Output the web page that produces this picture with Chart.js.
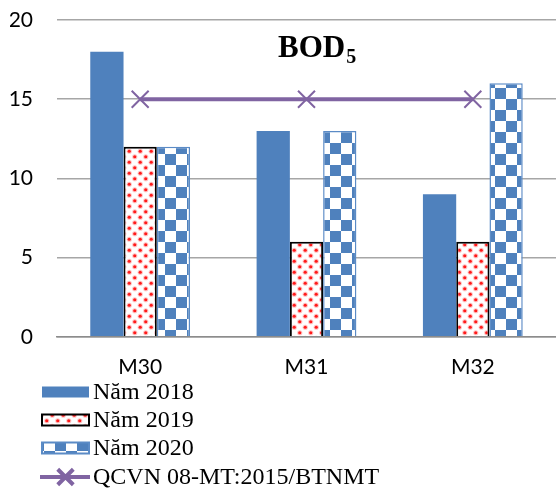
<!DOCTYPE html>
<html>
<head>
<meta charset="utf-8">
<script src="https://cdn.jsdelivr.net/npm/chart.js@4.4.0/dist/chart.umd.min.js"></script>
<style>
  html, body { margin: 0; padding: 0; background: #fff; }
  #wrap { width: 556px; height: 488px; }
</style>
</head>
<body>
<div id="wrap"><canvas id="c" width="556" height="488"></canvas></div>
<script>
// Sampling stations and BOD5 results per year (mg/l)
const categories = ['M30', 'M31', 'M32'];
const seriesNames = ['Năm 2018', 'Năm 2019', 'Năm 2020'];
const values2018 = [18, 13, 9];
const values2019 = [12, 6, 6];
const values2020 = [12, 13, 16];
// Regulatory limit
const limitName = 'QCVN 08-MT:2015/BTNMT';
const limitValues = [15, 15, 15];
const yTicks = [0, 5, 10, 15, 20];

const BLUE = '#4f81bd';
const PURPLE = '#8064a2';

// Dotted fill: red dots on white, staggered rows
function makeDots() {
  const s = 11;
  const cv = document.createElement('canvas');
  cv.width = s; cv.height = s;
  const g = cv.getContext('2d');
  g.fillStyle = '#fff';
  g.fillRect(0, 0, s, s);
  [[2.75, 2.75], [8.25, 8.25]].forEach(([x, y]) => {
    g.fillStyle = 'rgba(255,120,120,0.45)';
    g.beginPath(); g.arc(x, y, 2.6, 0, Math.PI * 2); g.fill();
    g.fillStyle = '#ff1a1a';
    g.beginPath(); g.arc(x, y, 1.6, 0, Math.PI * 2); g.fill();
  });
  return g.createPattern(cv, 'repeat');
}

// Checkerboard fill: blue and white squares
function makeChecker() {
  const s = 11;
  const cv = document.createElement('canvas');
  cv.width = s * 2; cv.height = s * 2;
  const g = cv.getContext('2d');
  g.fillStyle = '#fff';
  g.fillRect(0, 0, s * 2, s * 2);
  g.fillStyle = BLUE;
  g.fillRect(s, 0, s, s);
  g.fillRect(0, s, s, s);
  return g.createPattern(cv, 'repeat');
}

const dots = makeDots();
const checker = makeChecker();

// Chart heading with subscript
const headingPlugin = {
  id: 'heading',
  afterDraw(chart) {
    const c = chart.ctx;
    c.save();
    c.fillStyle = '#000';
    c.textBaseline = 'alphabetic';
    c.textAlign = 'left';
    c.font = 'bold 31px "Liberation Serif"';
    const x0 = 278, base = 57;
    c.fillText('BOD', x0, base);
    const w = c.measureText('BOD').width;
    c.font = 'bold 20px "Liberation Serif"';
    c.fillText('5', x0 + w + 1, base + 6);
    c.restore();
  }
};

// Vertical legend below the axis
const legendPlugin = {
  id: 'stackedLegend',
  afterDraw(chart) {
    const c = chart.ctx;
    const rows = [392, 420, 448, 477];
    const x0 = 42, x1 = 89, textX = 93;
    const entries = [
      { text: seriesNames[0], fill: BLUE, stroke: null },
      { text: seriesNames[1], fill: dots, stroke: '#000' },
      { text: seriesNames[2], fill: checker, stroke: '#5b8bc6' },
      { text: limitName, line: PURPLE }
    ];
    c.save();
    entries.forEach((e, i) => {
      const y = rows[i];
      if (e.line) {
        c.strokeStyle = e.line;
        c.lineWidth = 4;
        c.beginPath(); c.moveTo(x0 - 2, y); c.lineTo(x1 + 1, y); c.stroke();
        Chart.helpers.drawPoint(c, { pointStyle: 'crossRot', radius: 11, borderWidth: 2 }, (x0 + x1) / 2, y);
      } else {
        c.fillStyle = e.fill;
        c.fillRect(x0, y - 5.5, x1 - x0, 11);
        if (e.stroke) {
          c.strokeStyle = e.stroke;
          c.lineWidth = 2;
          c.strokeRect(x0, y - 5.5, x1 - x0, 11);
        }
      }
      c.fillStyle = '#000';
      c.font = '24px "Liberation Serif"';
      c.textBaseline = 'middle';
      c.textAlign = 'left';
      c.fillText(e.text, textX, y + 1);
    });
    c.restore();
  }
};

const tickFont = { family: 'Lato', size: 21 };

new Chart(document.getElementById('c').getContext('2d'), {
  type: 'bar',
  data: {
    labels: categories,
    datasets: [
      {
        type: 'line',
        label: limitName,
        data: limitValues,
        borderColor: PURPLE,
        backgroundColor: PURPLE,
        borderWidth: 4,
        pointStyle: 'crossRot',
        pointRadius: 12,
        pointBorderWidth: 2,
        pointBorderColor: PURPLE,
        fill: false,
        order: 0
      },
      { label: seriesNames[0], data: values2018, backgroundColor: BLUE, borderWidth: 0, order: 1 },
      { label: seriesNames[1], data: values2019, backgroundColor: dots, borderColor: '#000', borderWidth: 2, order: 1 },
      { label: seriesNames[2], data: values2020, backgroundColor: checker, borderColor: '#5b8bc6', borderWidth: 1.5, order: 1 }
    ]
  },
  options: {
    responsive: false,
    animation: false,
    devicePixelRatio: 1,
    layout: { autoPadding: false, padding: { top: 20, left: 10, right: 0, bottom: 90 } },
    datasets: { bar: { categoryPercentage: 0.6, barPercentage: 1.0 } },
    plugins: { legend: { display: false }, tooltip: { enabled: false }, title: { display: false } },
    scales: {
      x: {
        grid: { display: false, drawTicks: false },
        border: { display: true, color: '#8c8c8c', width: 1.5 },
        ticks: { color: '#000', font: tickFont, padding: 18 },
        afterFit: axis => { axis.paddingLeft = 0; axis.paddingRight = 0; }
      },
      y: {
        min: 0,
        max: 20,
        afterBuildTicks: axis => { axis.ticks = yTicks.map(v => ({ value: v })); },
        afterFit: axis => { axis.width = 47; axis.paddingTop = 0; axis.paddingBottom = 0; },
        grid: { color: '#a6a6a6', lineWidth: 1.5, drawTicks: false },
        border: { display: false },
        ticks: { color: '#000', font: tickFont, padding: 24 }
      }
    }
  },
  plugins: [headingPlugin, legendPlugin]
});
</script>
</body>
</html>
